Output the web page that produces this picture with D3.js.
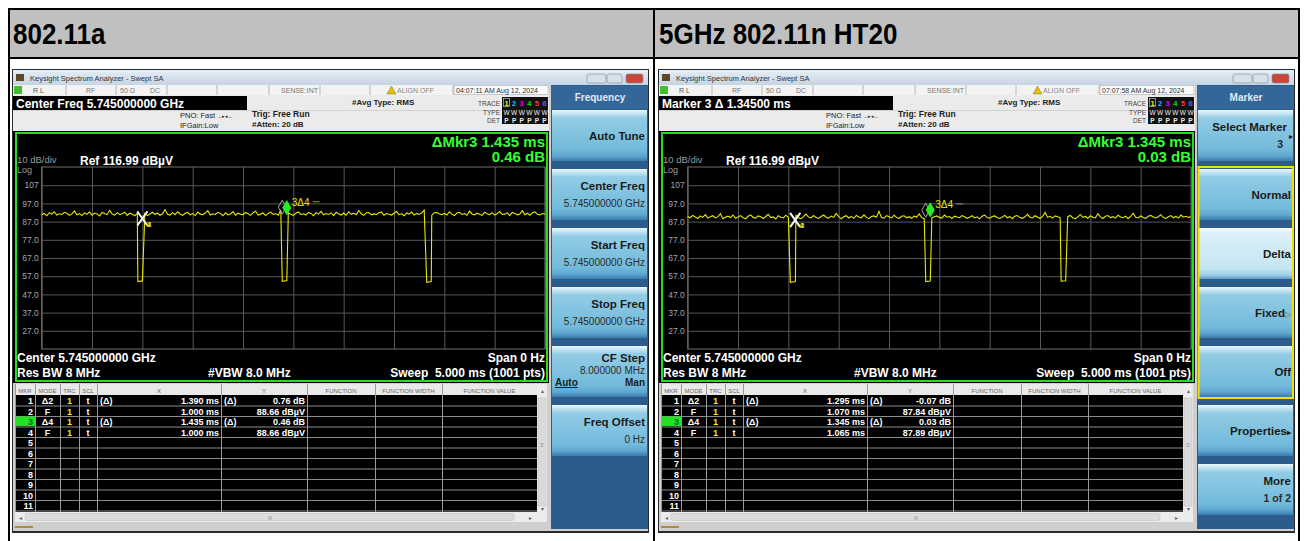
<!DOCTYPE html>
<html>
<head>
<meta charset="utf-8">
<script src="https://cdn.jsdelivr.net/npm/d3@7"></script>
<style>
  body { margin: 0; background: #fff; }
  svg { display: block; font-family: "Liberation Sans", Arial, sans-serif; }
</style>
</head>
<body>
<svg id="chart" width="1306" height="541"></svg>
<script>
// titres des deux cellules
const panelTitles = ["802.11a", "5GHz 802.11n HT20"];

// axe temps (ms) et niveau de référence
const timeDomain = [0, 5];
const timeDivisions = 10;
const refLevel = 116.99;
const yTickValues = [106.99, 96.99, 86.99, 76.99, 66.99, 56.99, 46.99, 36.99, 26.99];
const yTickLabels = ["107", "97.0", "87.0", "77.0", "67.0", "57.0", "47.0", "37.0", "27.0"];

// trace, un point toutes les 0.025 ms
const sampleStep = 0.025;
const baseA = [
  90.8, 91.5, 90.2, 91.9, 91.1, 92.4, 90.6, 91.3, 90.9, 92.1,
  91.6, 90.4, 91.2, 92.8, 90.7, 91.4, 90.3, 91.8, 91.0, 92.3,
  90.5, 91.7, 91.2, 90.1, 92.0, 91.4, 90.8, 93.2, 91.1, 90.6,
  91.9, 90.9, 91.3, 92.2, 90.4, 91.6, 91.0, 90.2, 91.8, 92.6,
  90.7, 91.5, 90.3, 91.2, 92.1, 90.9, 91.7, 90.5, 91.3, 93.6,
  91.0, 90.6, 91.9, 90.8, 92.4, 91.2, 90.4, 91.6, 92.0, 90.7,
  91.4, 90.3, 92.2, 91.1, 90.8, 91.7, 93.0, 90.6, 91.3, 90.9,
  92.1, 91.5, 90.2, 91.8, 90.7, 91.2, 92.5, 90.5, 91.6, 91.0,
  90.8, 92.0, 91.3, 90.4, 91.9, 92.7, 90.6, 91.1, 91.7, 90.3,
  91.5, 92.2, 90.9, 91.4, 90.5, 93.4, 91.2, 90.7, 91.8, 91.0,
  90.4, 91.6, 92.3, 90.8, 91.3, 90.6, 92.0, 91.5, 90.2, 91.9,
  91.1, 92.6, 90.7, 91.4, 90.9, 91.8, 90.3, 92.1, 91.2, 90.6,
  91.7, 90.5, 92.4, 91.0, 91.6, 90.8, 93.1, 91.3, 90.4, 91.9,
  92.0, 90.7, 91.2, 90.9, 91.8, 92.3, 90.5, 91.4, 91.0, 90.6,
  91.6, 92.5, 90.8, 91.3, 90.2, 91.7, 91.1, 92.2, 90.6, 91.5,
  90.9, 91.8, 93.3, 90.7, 91.2, 90.4, 91.9, 92.0, 91.3, 90.8,
  91.5, 90.6, 92.4, 91.1, 90.3, 91.7, 92.1, 90.9, 91.4, 90.5,
  92.8, 91.2, 90.7, 91.6, 91.0, 90.4, 92.2, 91.3, 90.8, 91.9,
  90.6, 91.4, 92.5, 90.9, 91.1, 91.8, 90.3, 92.0, 91.5, 90.7,
  91.2, 93.0, 90.8, 91.6, 90.5, 91.9, 92.3, 91.0, 90.6, 91.4,
  91.1
];
const baseN = [
  89.8, 89.1, 90.4, 89.5, 88.7, 90.1, 89.3, 90.8, 88.9, 89.6,
  90.2, 89.0, 89.7, 91.3, 88.6, 89.4, 90.0, 89.2, 90.6, 88.8,
  89.5, 90.3, 89.1, 88.5, 89.9, 90.7, 89.3, 88.9, 90.1, 89.6,
  88.7, 89.8, 91.0, 89.2, 89.6, 88.4, 90.2, 89.4, 89.0, 90.5,
  89.3, 88.8, 89.9, 90.4, 89.1, 88.6, 89.7, 91.1, 89.5, 89.0,
  90.3, 89.2, 88.7, 89.8, 90.6, 89.4, 88.9, 90.0, 89.3, 91.5,
  89.7, 88.5, 89.6, 90.2, 89.0, 89.9, 88.8, 90.4, 89.5, 89.1,
  90.7, 89.3, 88.6, 89.8, 90.1, 89.4, 92.6, 89.2, 88.9, 90.3,
  89.6, 89.0, 90.5, 89.3, 88.7, 89.9, 90.2, 89.1, 89.7, 88.8,
  90.0, 89.5, 91.2, 89.2, 88.6, 89.8, 90.4, 89.0, 89.6, 90.1,
  89.3, 88.9, 90.6, 89.4, 89.8, 88.7, 90.0, 89.5, 89.1, 90.3,
  89.7, 88.8, 89.4, 90.2, 89.0, 89.6, 88.5, 89.9, 90.5, 89.2,
  88.9, 89.8, 90.1, 89.3, 88.7, 89.5, 90.4, 89.1, 89.7, 88.6,
  89.9, 90.3, 89.2, 88.8, 89.6, 91.0, 89.4, 89.0, 90.2, 89.5,
  88.7, 89.8, 92.0, 89.3, 89.9, 88.9, 90.1, 89.6, 89.2, 90.7,
  89.0, 89.7, 90.4, 89.1, 88.6, 89.5, 90.9, 89.3, 89.8, 88.8,
  90.2, 89.4, 89.0, 91.3, 89.6, 88.7, 89.9, 90.3, 89.2, 89.7,
  88.9, 90.5, 89.5, 89.1, 90.0, 88.6, 89.8, 91.6, 89.4, 89.0,
  90.1, 89.3, 88.8, 89.9, 90.4, 89.5, 89.0, 89.7, 90.8, 89.2,
  88.7, 89.6, 90.3, 89.1, 89.8, 88.9, 90.6, 89.4, 89.9, 89.3,
  89.6
];
// creux : [début ms, fin ms, niveau bas début, niveau bas fin]
const dipsA = [[0.955, 1.000, 54.0, 54.4], [2.390, 2.435, 54.2, 54.6], [3.825, 3.870, 53.6, 54.0]];
const dipsN = [[1.020, 1.070, 53.6, 54.0], [2.365, 2.410, 54.0, 54.3], [3.710, 3.755, 54.3, 54.5]];

// table des marqueurs
const mkrTimeA = [1.390, 1.000, 1.435, 1.000];
const mkrLevelA = [0.76, 88.66, 0.46, 88.66];
const mkrTimeN = [1.295, 1.070, 1.345, 1.065];
const mkrLevelN = [-0.07, 87.84, 0.03, 87.89];
const mkrRef = [2, 0, 4, 0];
const activeMarker = 3;

// touches logicielles
const freqKeys = [
  { label: "Auto Tune" },
  { label: "Center Freq", value: "5.745000000 GHz" },
  { label: "Start Freq", value: "5.745000000 GHz" },
  { label: "Stop Freq", value: "5.745000000 GHz" },
  { label: "CF Step", value: "8.000000 MHz", auto: true },
  { label: "Freq Offset", value: "0 Hz" }
];
const markerKeys = [
  { label: "Select Marker", value: "3", arrow: "▸" },
  { label: "Normal" },
  { label: "Delta", selected: true },
  { label: "Fixed", arrow: "▷" },
  { label: "Off" },
  { label: "Properties", arrow: "▸" },
  { label: "More", value: "1 of 2" }
];

const panels = [
  { ox: 0, title: panelTitles[0], banner: "Center Freq 5.745000000 GHz", clock: "04:07:11 AM Aug 12, 2024",
    base: baseA, dips: dipsA, times: mkrTimeA, levels: mkrLevelA, keysTitle: "Frequency", keys: freqKeys },
  { ox: 646, title: panelTitles[1], banner: "Marker 3 Δ 1.34500 ms", clock: "07:07:58 AM Aug 12, 2024",
    base: baseN, dips: dipsN, times: mkrTimeN, levels: mkrLevelN, keysTitle: "Marker", keys: markerKeys, group: [1, 4] }
];

const svg = d3.select('#chart');
const defs = svg.append('defs');

function gradient(id, stops) {
  const gr = defs.append('linearGradient').attr('id', id)
    .attr('x1', 0).attr('y1', 0).attr('x2', 0).attr('y2', 1);
  stops.forEach(s => gr.append('stop').attr('offset', s[0]).attr('stop-color', s[1]));
}
gradient('btn', [[0, '#eef8fc'], [0.07, '#c3e4f2'], [0.16, '#92cce5'], [0.78, '#72badb'], [0.9, '#5ea7cf'], [1, '#3a7cae']]);
gradient('btnSel', [[0, '#f7fcfe'], [0.1, '#dcf0f8'], [0.8, '#c4e5f3'], [0.92, '#9fd0e7'], [1, '#5e9cc6']]);
gradient('titlebar', [[0, '#e6eef6'], [1, '#c5d4e3']]);

function txt(g, x, y, s, o = {}) {
  return g.append('text').attr('x', x).attr('y', y).text(s)
    .attr('font-size', o.size || 8)
    .attr('font-weight', o.bold ? 'bold' : null)
    .attr('fill', o.color || '#222')
    .attr('text-anchor', o.anchor || 'start');
}

// tableau extérieur
svg.append('rect').attr('x', 10).attr('y', 10).attr('width', 1288).attr('height', 47).attr('fill', '#c0c0c0');
[[8, 8, 1292, 2], [8, 57, 1292, 2], [8, 8, 2, 533], [653, 8, 2, 533], [1298, 8, 2, 533]].forEach(r =>
  svg.append('rect').attr('x', r[0]).attr('y', r[1]).attr('width', r[2]).attr('height', r[3]).attr('fill', '#000'));

function drawAnalyzer(p) {
  const g = svg.append('g').attr('transform', `translate(${p.ox},0)`);
  txt(g, 13, 44, p.title, { size: 26, bold: true, color: '#000' })
    .attr('transform', 'translate(13,44) scale(1,1.12) translate(-13,-44)');

  // fenêtre
  g.append('rect').attr('x', 12).attr('y', 69).attr('width', 637).attr('height', 464).attr('fill', '#2a2a2a');
  g.append('rect').attr('x', 13).attr('y', 70).attr('width', 635).attr('height', 15).attr('fill', 'url(#titlebar)');
  g.append('rect').attr('x', 16).attr('y', 74).attr('width', 8).attr('height', 7).attr('fill', '#5a4a2a');
  txt(g, 30, 81, "Keysight Spectrum Analyzer - Swept SA", { size: 7.5, color: '#333' });
  [[587, 19, '#d6e0ea'], [607, 15, '#d6e0ea'], [626, 17, '#c8463c']].forEach(b =>
    g.append('rect').attr('x', b[0]).attr('y', 74).attr('width', b[1]).attr('height', 9).attr('rx', 2)
      .attr('fill', b[2]).attr('stroke', '#7d8a98').attr('stroke-width', 0.6));
  g.append('rect').attr('x', 13).attr('y', 85).attr('width', 635).attr('height', 446).attr('fill', '#cfcfcf');

  // barre d'état
  g.append('rect').attr('x', 13).attr('y', 85).attr('width', 536).attr('height', 10).attr('fill', '#f3f3f3');
  [66, 116, 167, 217, 269, 320, 370, 453].forEach(sx =>
    g.append('line').attr('x1', sx).attr('x2', sx).attr('y1', 85).attr('y2', 95).attr('stroke', '#b8b8b8'));
  g.append('rect').attr('x', 14).attr('y', 86).attr('width', 8).attr('height', 8).attr('fill', '#3fbf2f');
  txt(g, 33, 93, "R L", { size: 7, color: '#555' });
  txt(g, 86, 93, "RF", { size: 7, color: '#777' });
  txt(g, 120, 93, "50 Ω", { size: 7, color: '#777' });
  txt(g, 150, 93, "DC", { size: 7, color: '#777' });
  txt(g, 318, 93, "SENSE:INT", { size: 7, color: '#777', anchor: 'end' });
  g.append('path').attr('d', 'M387,94 L391.5,86 L396,94 Z').attr('fill', '#e8c000').attr('stroke', '#555').attr('stroke-width', 0.4);
  txt(g, 397, 93, "ALIGN OFF", { size: 7, color: '#888' });
  g.append('rect').attr('x', 454).attr('y', 85.5).attr('width', 94).attr('height', 9).attr('fill', '#fafafa').attr('stroke', '#999').attr('stroke-width', 0.5);
  txt(g, 456, 93, p.clock, { size: 7, color: '#333' });

  // bandeau d'information
  g.append('rect').attr('x', 13).attr('y', 95).attr('width', 536).attr('height', 36).attr('fill', '#ebebeb');
  g.append('line').attr('x1', 13).attr('x2', 549).attr('y1', 110.5).attr('y2', 110.5).attr('stroke', '#d2d2d2');
  g.append('rect').attr('x', 13).attr('y', 96).attr('width', 234).attr('height', 14).attr('fill', '#000');
  txt(g, 16, 107.5, p.banner, { size: 12, bold: true, color: '#fff' });
  txt(g, 180, 118, "PNO: Fast", { size: 7.5, color: '#222' });
  txt(g, 217, 118, "→▸◂←", { size: 5, color: '#222' });
  txt(g, 180, 128, "IFGain:Low", { size: 7.5, color: '#222' });
  txt(g, 252, 117, "Trig: Free Run", { size: 8.5, bold: true, color: '#222' });
  txt(g, 252, 127, "#Atten: 20 dB", { size: 8, bold: true, color: '#222' });
  txt(g, 352, 104.5, "#Avg Type: RMS", { size: 8, bold: true, color: '#222' });
  txt(g, 500, 105.5, "TRACE", { size: 6.5, color: '#444', anchor: 'end' });
  txt(g, 500, 114.5, "TYPE", { size: 6.5, color: '#444', anchor: 'end' });
  txt(g, 500, 122.5, "DET", { size: 6.5, color: '#444', anchor: 'end' });
  g.append('rect').attr('x', 502).attr('y', 97).attr('width', 46).attr('height', 27).attr('fill', '#111');
  const traceColors = ['#f0f000', '#00c8ff', '#e000e0', '#00e000', '#ff3050', '#5a5aff'];
  traceColors.forEach((c, i) => {
    const tx = 506 + i * 7.6;
    if (i === 0) g.append('rect').attr('x', tx - 2.5).attr('y', 98.5).attr('width', 6).attr('height', 8).attr('fill', 'none').attr('stroke', '#ddd').attr('stroke-width', 0.6);
    txt(g, tx + 0.5, 105.5, String(i + 1), { size: 7.5, bold: true, color: c, anchor: 'middle' });
    txt(g, tx + 0.5, 114.5, "W", { size: 6.5, color: '#eee', anchor: 'middle' });
    txt(g, tx + 0.5, 122.5, "P", { size: 6.5, bold: true, color: '#eee', anchor: 'middle' });
  });

  // zone de tracé
  g.append('rect').attr('x', 13).attr('y', 131).attr('width', 536).attr('height', 252).attr('fill', '#000');
  g.append('rect').attr('x', 16).attr('y', 133).attr('width', 531).attr('height', 248)
    .attr('fill', 'none').attr('stroke', '#22dd22').attr('stroke-width', 2);

  const x = d3.scaleLinear().domain(timeDomain).range([41.7, 545]);
  const y = d3.scaleLinear().domain([refLevel - 100, refLevel]).range([349, 167]);
  const gw = x.range()[1] - x.range()[0];
  const gh = y.range()[0] - y.range()[1];

  const xg = g.append('g').attr('transform', `translate(0,${y.range()[0]})`)
    .call(d3.axisBottom(x).ticks(timeDivisions).tickSize(-gh).tickFormat(''));
  const yg = g.append('g').attr('transform', `translate(${x.range()[0]},0)`)
    .call(d3.axisLeft(y).tickValues(yTickValues).tickSize(-gw).tickPadding(3)
      .tickFormat((d, i) => yTickLabels[i]));
  [xg, yg].forEach(a => {
    a.select('.domain').remove();
    a.selectAll('line').attr('stroke', '#585858');
  });
  yg.selectAll('text').attr('fill', '#a6a6a6').attr('font-size', 8.5).attr('font-family', '"Liberation Sans", Arial, sans-serif');
  g.append('rect').attr('x', x.range()[0]).attr('y', y.range()[1]).attr('width', gw).attr('height', gh)
    .attr('fill', 'none').attr('stroke', '#6e6e6e');

  txt(g, 17, 162.5, "10 dB/div", { size: 9.5, color: '#9a9a9a' });
  txt(g, 17, 173, "Log", { size: 9, color: '#9a9a9a' });
  txt(g, 80, 164.5, "Ref 116.99 dBµV", { size: 12, bold: true, color: '#fff' });

  // trace
  const pts = [];
  p.base.forEach((v, i) => {
    const t = i * sampleStep;
    if (!p.dips.some(d => t >= d[0] && t <= d[1])) pts.push([t, v]);
  });
  p.dips.forEach(d => { pts.push([d[0], d[2]]); pts.push([d[1], d[3]]); });
  pts.sort((a, b) => a[0] - b[0]);
  g.append('path').datum(pts)
    .attr('d', d3.line().x(d => x(d[0])).y(d => y(d[1])))
    .attr('fill', 'none').attr('stroke', '#e8e800').attr('stroke-width', 1.1);

  // marqueurs
  const absTime = p.times.map((t, i) => mkrRef[i] ? t + p.times[mkrRef[i] - 1] : t);
  const absLevel = p.levels.map((v, i) => mkrRef[i] ? v + p.levels[mkrRef[i] - 1] : v);
  [1, 3].forEach(i => {
    const mx = x(absTime[i]), my = y(absLevel[i]);
    g.append('path').attr('d', `M${mx - 5},${my - 7}L${mx + 5},${my + 7}M${mx + 5},${my - 7}L${mx - 5},${my + 7}`)
      .attr('stroke', '#f4f4f4').attr('stroke-width', 1.6).attr('fill', 'none');
    txt(g, mx + 4.5, my + 8, String(i + 1), { size: 8, bold: true, color: '#d8d800' });
  });
  [0, 2].forEach(i => {
    const mx = x(absTime[i]), my = y(absLevel[i]) - 3;
    const dia = `M${mx},${my}L${mx + 4},${my - 7}L${mx},${my - 14}L${mx - 4},${my - 7}Z`;
    const active = i + 1 === activeMarker;
    g.append('path').attr('d', dia)
      .attr('fill', active ? '#22ee22' : 'none')
      .attr('stroke', active ? '#22ee22' : '#aaaaaa').attr('stroke-width', 1);
    if (active) {
      txt(g, mx + 5, my - 9, `${i + 1}Δ${mkrRef[i]}`, { size: 10, color: '#e8e800' });
      g.append('line').attr('x1', mx + 26).attr('x2', mx + 33).attr('y1', my - 13).attr('y2', my - 13)
        .attr('stroke', '#888');
    }
  });

  const ai = activeMarker - 1;
  txt(g, 545, 147, `ΔMkr${activeMarker} ${p.times[ai].toFixed(3)} ms`, { size: 15, bold: true, color: '#33ff33', anchor: 'end' });
  txt(g, 545, 162, `${p.levels[ai].toFixed(2)} dB`, { size: 15, bold: true, color: '#33ff33', anchor: 'end' });

  txt(g, 17, 362, "Center 5.745000000 GHz", { size: 12, bold: true, color: '#fff' });
  txt(g, 545, 362, "Span 0 Hz", { size: 12, bold: true, color: '#fff', anchor: 'end' });
  txt(g, 17, 377, "Res BW 8 MHz", { size: 12, bold: true, color: '#fff' });
  txt(g, 208, 377, "#VBW 8.0 MHz", { size: 12, bold: true, color: '#fff' });
  txt(g, 545, 377, "Sweep\u00a0 5.000 ms (1001 pts)", { size: 12, bold: true, color: '#fff', anchor: 'end' });

  // table des marqueurs
  const cols = [15, 35, 60, 79, 97, 221, 307, 375, 442, 537];
  const colNames = ["MKR", "MODE", "TRC", "SCL", "X", "Y", "FUNCTION", "FUNCTION WIDTH", "FUNCTION VALUE"];
  g.append('rect').attr('x', 15).attr('y', 384).attr('width', 532).attr('height', 11).attr('fill', '#e9e9e9');
  g.append('rect').attr('x', 15).attr('y', 395).attr('width', 522).attr('height', 117).attr('fill', '#000');
  colNames.forEach((c, i) =>
    txt(g, (cols[i] + cols[i + 1]) / 2, 392.5, c, { size: 6, color: '#666', anchor: 'middle' }));
  const rowH = 10.5;
  for (let r = 0; r < 11; r++) {
    const ry = 395.5 + r * rowH;
    g.append('line').attr('x1', 15).attr('x2', 537).attr('y1', ry + rowH).attr('y2', ry + rowH)
      .attr('stroke', '#8c8c8c').attr('stroke-width', 1);
    if (r + 1 === activeMarker)
      g.append('rect').attr('x', 15).attr('y', ry).attr('width', 20).attr('height', rowH - 1).attr('fill', '#22e022');
    txt(g, 33, ry + 8.5, String(r + 1), { size: 9, bold: true, color: r + 1 === activeMarker ? '#062' : '#fff', anchor: 'end' });
    if (r < p.times.length) {
      const delta = mkrRef[r] > 0;
      txt(g, 47.5, ry + 8.5, delta ? `Δ${mkrRef[r]}` : "F", { size: 9, bold: true, color: '#fff', anchor: 'middle' });
      txt(g, 69.5, ry + 8.5, "1", { size: 9, bold: true, color: '#f0f000', anchor: 'middle' });
      txt(g, 88, ry + 8.5, "t", { size: 9, bold: true, color: '#fff', anchor: 'middle' });
      if (delta) {
        txt(g, 100, ry + 8.5, "(Δ)", { size: 9, bold: true, color: '#fff' });
        txt(g, 224, ry + 8.5, "(Δ)", { size: 9, bold: true, color: '#fff' });
      }
      txt(g, 219, ry + 8.5, `${p.times[r].toFixed(3)} ms`, { size: 9, bold: true, color: '#fff', anchor: 'end' });
      txt(g, 305, ry + 8.5, delta ? `${p.levels[r].toFixed(2)} dB` : `${p.levels[r].toFixed(2)} dBµV`,
        { size: 9, bold: true, color: '#fff', anchor: 'end' });
    }
  }
  cols.forEach(cx =>
    g.append('line').attr('x1', cx + 0.5).attr('x2', cx + 0.5).attr('y1', 384).attr('y2', 512)
      .attr('stroke', '#9a9a9a').attr('stroke-width', 1));

  // barres de défilement
  g.append('rect').attr('x', 537).attr('y', 384).attr('width', 10).attr('height', 138).attr('fill', '#ececec');
  g.append('rect').attr('x', 538).attr('y', 398).attr('width', 8).attr('height', 108).attr('fill', '#dadada').attr('stroke', '#bdbdbd').attr('stroke-width', 0.5);
  txt(g, 542, 393, "▴", { size: 6, color: '#666', anchor: 'middle' });
  txt(g, 542, 447, "≡", { size: 6, color: '#888', anchor: 'middle' });
  txt(g, 542, 511, "▾", { size: 6, color: '#666', anchor: 'middle' });
  g.append('rect').attr('x', 15).attr('y', 512).attr('width', 522).attr('height', 10).attr('fill', '#ececec');
  g.append('rect').attr('x', 25).attr('y', 513.5).attr('width', 489).attr('height', 7).attr('rx', 2)
    .attr('fill', '#dcdcdc').attr('stroke', '#bcbcbc').attr('stroke-width', 0.5);
  txt(g, 20, 520, "◂", { size: 6, color: '#666', anchor: 'middle' });
  txt(g, 270, 520, "III", { size: 5, color: '#888', anchor: 'middle' });
  txt(g, 530, 520, "▸", { size: 6, color: '#666', anchor: 'middle' });
  g.append('rect').attr('x', 15).attr('y', 526).attr('width', 18).attr('height', 2).attr('fill', '#b08a3a');

  // panneau des touches
  g.append('rect').attr('x', 551).attr('y', 85).attr('width', 97).attr('height', 444).attr('fill', '#2c5c8c');
  g.append('rect').attr('x', 551).attr('y', 86).attr('width', 97).attr('height', 23).attr('fill', '#336799');
  txt(g, 600, 100.5, p.keysTitle, { size: 10, bold: true, color: '#e2eaf3', anchor: 'middle' });
  p.keys.forEach((k, i) => {
    const ty = 110 + i * 59;
    g.append('rect').attr('x', 552).attr('y', ty).attr('width', 95).attr('height', 51)
      .attr('fill', k.selected ? 'url(#btnSel)' : 'url(#btn)');
    const two = k.value !== undefined;
    const ly = k.auto ? ty + 16 : (two ? ty + 21 : ty + 30);
    const lab = txt(g, 645, ly, k.label, { size: 11.5, bold: true, color: '#1b1b1b', anchor: 'end' });
    if (k.arrow && !two) lab.append('tspan').text(k.arrow).attr('font-size', 8).attr('fill', k.arrow === '▷' ? '#888' : '#111');
    if (k.arrow && two) {
      lab.attr('x', 641);
      txt(g, 646.5, ty + 29, k.arrow, { size: 8, color: '#111', anchor: 'end' });
    }
    if (two) {
      const isKeyNum = k.arrow !== undefined;
      txt(g, isKeyNum ? 637 : 645, k.auto ? ty + 28 : ty + 38, k.value,
        { size: isKeyNum || k.label === "More" ? 10.5 : 10, bold: isKeyNum || k.label === "More", color: '#2a2a2a', anchor: 'end' });
    }
    if (k.auto) {
      txt(g, 555, ty + 40, "Auto", { size: 10, bold: true, color: '#1b1b1b' })
        .attr('text-decoration', 'underline');
      txt(g, 645, ty + 40, "Man", { size: 10, bold: true, color: '#1b1b1b', anchor: 'end' });
    }
  });
  if (p.group) {
    const t0 = 110 + p.group[0] * 59 - 2, t1 = 110 + p.group[1] * 59 + 52;
    g.append('rect').attr('x', 552.5).attr('y', t0).attr('width', 94.5).attr('height', t1 - t0)
      .attr('fill', 'none').attr('stroke', '#f2e200').attr('stroke-width', 2);
  }
}

panels.forEach(drawAnalyzer);
</script>
</body>
</html>
